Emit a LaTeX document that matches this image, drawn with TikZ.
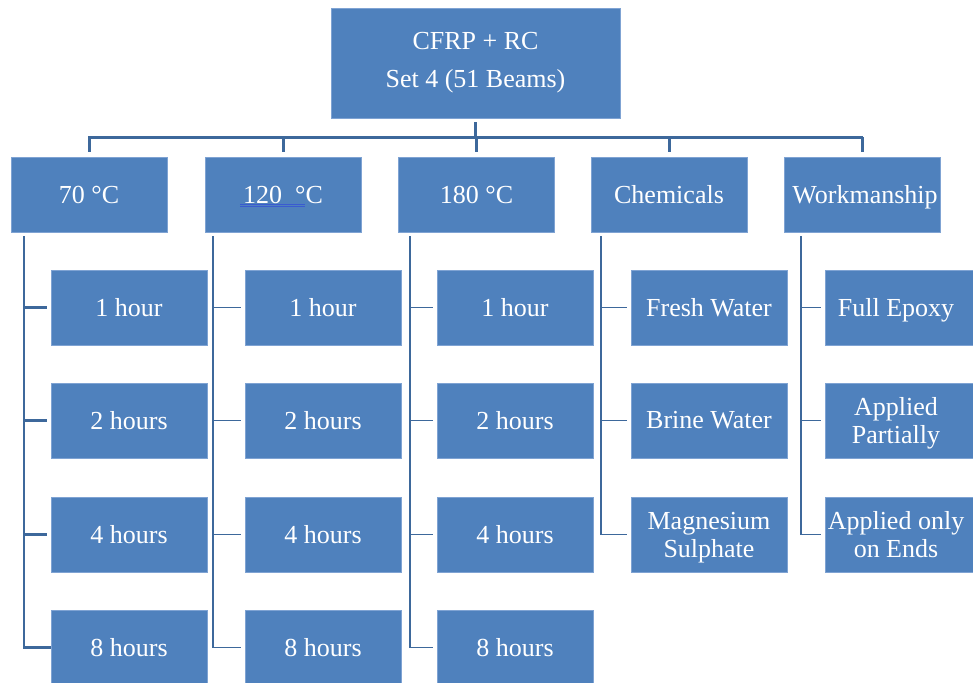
\documentclass[tikz,border=0pt]{standalone}
\usepackage{fontspec}
\setmainfont{Liberation Serif}
\definecolor{boxblue}{HTML}{4F81BD}
\definecolor{boxedge}{HTML}{7FA3D3}
\definecolor{linkblue}{HTML}{3D689B}
\definecolor{spellblue}{HTML}{3A5BD0}
\newcommand{\nodepth}[1]{\raisebox{0pt}[\height][0pt]{#1}}
\begin{document}
\begin{tikzpicture}[x=1pt,y=-1pt,
  box/.style={draw=boxedge,line width=0.8pt,fill=boxblue,text=white,
    minimum width=156pt,minimum height=75pt,inner sep=0pt,align=center,
    font=\fontsize{26}{28}\selectfont},
  bus/.style={draw=linkblue,line width=3pt},
  thick link/.style={draw=linkblue,line width=2.6pt},
  thin link/.style={draw=linkblue,line width=1.4pt}]
\useasboundingbox (0,0) rectangle (973,682);
% top
\node[box,minimum width=289pt,minimum height=110pt,font=\fontsize{26}{38}\selectfont] (top) at (475.5,63) {CFRP + RC\\Set 4 (51 Beams)};
% level 2
\node[box] (c70)  at (89,194.5)  {70 °C};
\node[box] (c120) at (283,194.5) {120\ \ °C};
\node[box] (c180) at (476.5,194.5) {180 °C};
\node[box] (chem) at (669,194.5) {Chemicals};
\node[box] (work) at (862,194.5) {\hspace*{6pt}\nodepth{Workmanship}};
\draw[spellblue,line width=0.7pt] ([shift={(-43,9.5)}]c120.center) -- ++(65,0);
\draw[spellblue,line width=0.7pt] ([shift={(-43,11.5)}]c120.center) -- ++(65,0);
% level 3
\node[box] (a1) at (129,307.5) {1 hour};
\node[box] (a2) at (129,420.5) {2 hours};
\node[box] (a3) at (129,534.5) {4 hours};
\node[box] (a4) at (129,647.5) {8 hours};
\node[box] (b1) at (323,307.5) {1 hour};
\node[box] (b2) at (323,420.5) {2 hours};
\node[box] (b3) at (323,534.5) {4 hours};
\node[box] (b4) at (323,647.5) {8 hours};
\node[box] (c1) at (515,307.5) {1 hour};
\node[box] (c2) at (515,420.5) {2 hours};
\node[box] (c3) at (515,534.5) {4 hours};
\node[box] (c4) at (515,647.5) {8 hours};
\node[box] (d1) at (709,307.5) {Fresh Water};
\node[box] (d2) at (709,420.5) {Brine Water};
\node[box] (d3) at (709,534.5) {Magnesium\\\nodepth{Sulphate}};
\node[box] (e1) at (903,307.5) {\nodepth{Full Epoxy}\hspace*{14pt}};
\node[box] (e2) at (903,420.5) {Applied\hspace*{14pt}\\\nodepth{Partially}\hspace*{14pt}};
\node[box] (e3) at (903,534.5) {Applied only\hspace*{14pt}\\on Ends\hspace*{14pt}};
% top bus
\coordinate (busL) at (88,137);
\coordinate (busR) at (863,137);
\draw[bus] (busL) -- (busR);
\draw[bus] ([yshift=-4pt]top.south) -- (top.south |- busR);
\foreach \n in {c70,c120,c180,chem,work}
  \draw[bus] (\n.north |- busR) -- ([yshift=5pt]\n.north);
% branch lines
\coordinate (s70) at (24,236);
\coordinate (s120) at (213,236);
\coordinate (s180) at (410,236);
\coordinate (schem) at (601,236);
\coordinate (swork) at (801,236);
\draw[thick link] (s70) |- (a4.west);
\foreach \n in {a1,a2,a3}
  \draw[thick link] (s70 |- \n.west) -- ([xshift=-4pt]\n.west);
\draw[thin link] (s120) |- ([xshift=-4pt]b4.west);
\foreach \n in {b1,b2,b3}
  \draw[thin link] (s120 |- \n.west) -- ([xshift=-4pt]\n.west);
\draw[thin link] (s180) |- ([xshift=-4pt]c4.west);
\foreach \n in {c1,c2,c3}
  \draw[thin link] (s180 |- \n.west) -- ([xshift=-4pt]\n.west);
\draw[thin link] (schem) |- ([xshift=-4pt]d3.west);
\foreach \n in {d1,d2}
  \draw[thin link] (schem |- \n.west) -- ([xshift=-4pt]\n.west);
\draw[thin link] (swork) |- ([xshift=-4pt]e3.west);
\foreach \n in {e1,e2}
  \draw[thin link] (swork |- \n.west) -- ([xshift=-4pt]\n.west);
\end{tikzpicture}
\end{document}
